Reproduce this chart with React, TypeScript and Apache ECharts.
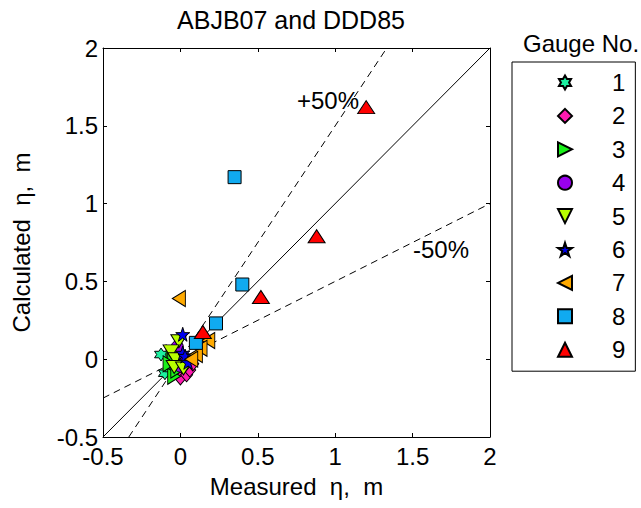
import React, { useEffect, useRef } from "react";
import * as echarts from "echarts";

// ---- data (Measured, Calculated) ----
const gaugeNames = ["1", "2", "3", "4", "5", "6", "7", "8", "9"];
const gauge1 = [[-0.125, 0.03], [-0.10, -0.09], [-0.06, -0.06], [-0.03, -0.03]];
const gauge2 = [[0.0, -0.12], [0.04, -0.10], [0.06, -0.07], [0.02, -0.05], [0.08, -0.03]];
const gauge3 = [[-0.05, 0.04], [-0.04, -0.11], [-0.04, -0.01], [-0.07, -0.03], [-0.02, -0.07]];
const gauge4 = [[-0.02, 0.08], [0.0, -0.045], [0.02, -0.02], [0.04, 0.0]];
const gauge5 = [[-0.01, 0.115], [-0.06, 0.05], [-0.03, 0.0], [-0.04, -0.05], [0.02, -0.06]];
const gauge6 = [[0.015, 0.16], [0.015, 0.04], [0.03, 0.02], [0.05, -0.02]];
const gauge7 = [[-0.01, 0.39], [0.18, 0.12], [0.13, 0.07], [0.10, 0.03], [0.07, 0.0]];
const gauge8 = [[0.35, 1.17], [0.40, 0.48], [0.23, 0.23], [0.10, 0.105]];
const gauge9 = [[1.2, 1.62], [0.88, 0.79], [0.52, 0.40], [0.145, 0.175]];
const gaugeData = [gauge1, gauge2, gauge3, gauge4, gauge5, gauge6, gauge7, gauge8, gauge9];
const axisMin = -0.5;
const axisMax = 2;
const axisStep = 0.5;
const lineEqual = [[-0.5, -0.5], [2, 2]];
const linePlus50 = [[-1 / 3, -0.5], [4 / 3, 2]];
const lineMinus50 = [[-0.5, -0.25], [2, 1]];

// ---- marker shapes ----
function starPath(n: number, inner: number): string {
  const pts: string[] = [];
  for (let i = 0; i < 2 * n; i++) {
    const r = i % 2 === 0 ? 10 : 10 * inner;
    const a = -Math.PI / 2 + (i * Math.PI) / n;
    pts.push((10 + r * Math.cos(a)).toFixed(3) + "," + (10 + r * Math.sin(a)).toFixed(3));
  }
  return "path://M" + pts.join("L") + "Z";
}
const hexagram = starPath(6, 1 / Math.sqrt(3));
const pentagram = starPath(5, 0.382);
const triRight = "path://M0,0L20,10L0,20Z";
const triLeft = "path://M20,0L0,10L20,20Z";
const triDown = "path://M0,0L20,0L10,20Z";
const triUp = "path://M10,0L20,20L0,20Z";

const symbols = [hexagram, "diamond", triRight, "circle", triDown, pentagram, triLeft, "rect", triUp];
const sizes: any[] = [[13, 13], [12, 14], [13, 16], [12, 12], [16, 13], [14, 14], [13, 16], [13, 13], [17, 13]];
const colors = ["#1CF0A0", "#FF1AB0", "#1AF01A", "#9900EE", "#B8FF00", "#0000F0", "#FFAA00", "#10AAF0", "#FF0000"];

const FONT = "'Liberation Sans', Arial, sans-serif";
const FS = 24;

export default function App() {
  const ref = useRef<HTMLDivElement>(null);
  useEffect(() => {
    if (!ref.current) return;
    const chart = echarts.init(ref.current, undefined, { renderer: "svg" });
    const refLine = (name: string, data: number[][], dashed: boolean) => ({
      name,
      type: "line",
      data,
      symbol: "none",
      silent: true,
      lineStyle: { color: "#000", width: 1, type: dashed ? [7, 5] : "solid" },
      z: 1,
    });
    const scatterSeries = gaugeData.map((d, i) => ({
      name: gaugeNames[i],
      type: "scatter",
      data: d,
      symbol: symbols[i],
      symbolSize: sizes[i],
      itemStyle: { color: colors[i], borderColor: "#000", borderWidth: 1, opacity: 1 },
      z: 3,
    }));
    const axisCommon = {
      type: "value",
      min: axisMin,
      max: axisMax,
      interval: axisStep,
      splitLine: { show: false },
      axisLine: { show: true, onZero: false, lineStyle: { color: "#000", width: 1 } },
      axisTick: { show: true, inside: true, length: 4, lineStyle: { color: "#000" } },
    };
    chart.setOption({
      animation: false,
      backgroundColor: "#fff",
      grid: { left: 103, right: 151, top: 48, bottom: 71 },
      xAxis: [
        {
          ...axisCommon,
          position: "bottom",
          name: "Measured  η,  m",
          nameLocation: "middle",
          nameGap: 37,
          nameTextStyle: { color: "#000", fontSize: FS, fontFamily: FONT },
          axisLabel: { color: "#000", fontSize: FS, fontFamily: FONT, margin: 7 },
        },
        { ...axisCommon, position: "top", axisLabel: { show: false } },
      ],
      yAxis: [
        {
          ...axisCommon,
          position: "left",
          name: "Calculated  η,  m",
          nameLocation: "middle",
          nameGap: 70,
          nameTextStyle: { color: "#000", fontSize: FS, fontFamily: FONT },
          axisLabel: { color: "#000", fontSize: FS, fontFamily: FONT, margin: 5 },
        },
        { ...axisCommon, position: "right", axisLabel: { show: false } },
      ],
      legend: {
        data: gaugeNames,
        orient: "vertical",
        left: 512,
        top: 62,
        padding: [4, 10, 5, 45],
        itemWidth: 14,
        itemHeight: 14,
        itemGap: 0.4,
        borderColor: "#000",
        borderWidth: 1,
        textStyle: { color: "#000", fontSize: FS, fontFamily: FONT, lineHeight: 33, padding: [0, 0, 0, 35] },
        selectedMode: false,
      },
      graphic: [
        { type: "text", x: 291, y: 20, style: { text: "ABJB07 and DDD85", fill: "#000", font: "25px " + FONT, textAlign: "center", textVerticalAlign: "middle" } },
        { type: "text", x: 581, y: 43, style: { text: "Gauge No.", fill: "#000", font: FS + "px " + FONT, textAlign: "center", textVerticalAlign: "middle" } },
        { type: "text", x: 328, y: 100, style: { text: "+50%", fill: "#000", font: FS + "px " + FONT, textAlign: "center", textVerticalAlign: "middle" } },
        { type: "text", x: 441, y: 249, style: { text: "-50%", fill: "#000", font: FS + "px " + FONT, textAlign: "center", textVerticalAlign: "middle" } },
      ],
      series: [
        refLine("eq", lineEqual, false),
        refLine("p50", linePlus50, true),
        refLine("m50", lineMinus50, true),
        ...scatterSeries,
      ],
    });
    return () => chart.dispose();
  }, []);
  return <div ref={ref} style={{ position: "fixed", left: 0, top: 0, width: 641, height: 508 }} />;
}
